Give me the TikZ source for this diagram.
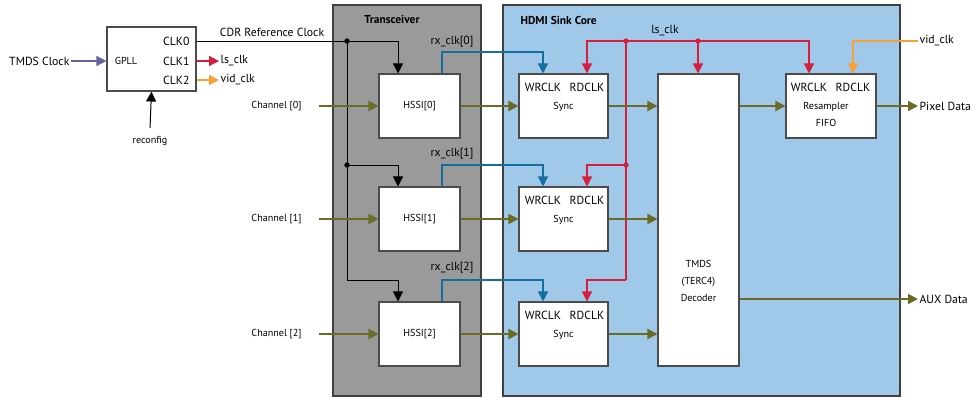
\documentclass[tikz,border=0pt]{standalone}
\usepackage{fontspec}
\setmainfont{PT Sans}
\usetikzlibrary{arrows.meta}
\definecolor{datolive}{RGB}{107,107,38}
\definecolor{rxblue}{RGB}{20,110,160}
\definecolor{lsred}{RGB}{215,30,60}
\definecolor{vidorange}{RGB}{250,160,50}
\definecolor{tmdspurple}{RGB}{100,100,160}
\definecolor{xcvrgray}{RGB}{154,154,154}
\definecolor{corblue}{RGB}{160,200,232}
\tikzset{
  box/.style={draw=black!70, fill=white, line width=0.8pt, inner sep=0pt, font=\fontsize{7.6}{8.6}\selectfont},
  lbl/.style={font=\fontsize{8.8}{10}\selectfont, inner sep=1pt},
  sm/.style={font=\fontsize{7.6}{8.6}\selectfont, inner sep=1pt},
  ttl/.style={font=\fontsize{8.6}{10}\selectfont\bfseries, inner sep=1pt},
  tip/.style={-{Triangle[length=7.5pt,width=7.5pt]}},
  dat/.style={tip, draw=datolive, line width=1.4pt},
  ck/.style={tip, draw=black, line width=0.75pt},
  rx/.style={tip, draw=rxblue, line width=1pt},
  ls/.style={tip, draw=lsred, line width=1pt},
  vid/.style={tip, draw=vidorange, line width=1pt},
}
\begin{document}
\begin{tikzpicture}[x=0.75pt,y=-0.75pt]
\useasboundingbox (0,0) rectangle (977,397);
\coordinate (k0) at (347,41);
\coordinate (k1) at (347,165);
\coordinate (k2) at (347,280);
\coordinate (cdr) at (398,41);
\coordinate (rx0) at (442,52);
\coordinate (rx1) at (442,165);
\coordinate (rx2) at (442,280);
\coordinate (ls0) at (626,41);
\coordinate (ls1) at (626,165);
\coordinate (ls2) at (626,280);
\coordinate (lst) at (698,41);

 \filldraw[fill=xcvrgray, draw=black!75, line width=0.8pt] (333,5) rectangle (481,396);
 \filldraw[fill=corblue, draw=black!75, line width=0.8pt] (503,5) rectangle (900,396);
 \node[ttl] (xcvr) at (392,20) {Transceiver};
 \node[ttl, anchor=west] (core) at (519,20) {HDMI Sink Core};

 \node[box, minimum width=66.75pt, minimum height=48pt] (gpll) at (151.5,59) {};
 \node[sm] (gplltxt) at (126,61) {GPLL};
 \node[lbl, anchor=east] (clk0) at (191,41) {CLK0};
 \node[lbl, anchor=east] (clk1) at (191,61) {CLK1};
 \node[lbl, anchor=east] (clk2) at (191,80) {CLK2};
 \node[lbl, anchor=east] (tmdsclk) at (71,61) {TMDS Clock};
 \node[lbl, anchor=west] (lsout) at (219,61) {ls\_clk};
 \node[lbl, anchor=west] (vidout) at (219,80) {vid\_clk};
 \node[sm] (reconf) at (150,141) {reconfig};
 \node[lbl] (cdrtxt) at (272,32) {CDR Reference Clock};

\foreach \i/\y in {0/106,1/219,2/334} {
 \node[box, minimum width=60.75pt, minimum height=48pt] (hssi\i) at (419.5,\y) {HSSI[\i]};
 \node[box, minimum width=66.75pt, minimum height=48pt] (sync\i) at (563.5,\y) {};
 \node[lbl] (wr\i) at (543,\y-19) {WRCLK};
 \node[lbl] (rd\i) at (587,\y-19) {RDCLK};
 \node[sm] (synctxt\i) at (563.5,\y+1) {Sync};
 \node[sm, anchor=east] (ch\i) at (303,\y) {Channel [\i]};
}
 \node[lbl, anchor=east] (rxtxt0) at (475,42) {rx\_clk[0]};
 \node[lbl, anchor=east] (rxtxt1) at (475,154) {rx\_clk[1]};
 \node[lbl, anchor=east] (rxtxt2) at (475,268) {rx\_clk[2]};

 \node[box, minimum width=60.75pt, minimum height=219pt] (tmds) at (698.5,220) {};
 \node[sm, align=center, font=\fontsize{7.6}{12.75}\selectfont] (tmdstxt) at (698.5,281) {TMDS\\(TERC4)\\Decoder};
 \node[box, minimum width=67.5pt, minimum height=48pt] (fifo) at (831,106) {};
 \node[lbl] (wrf) at (809,87) {WRCLK};
 \node[lbl] (rdf) at (853,87) {RDCLK};
 \node[sm, align=center, font=\fontsize{7.6}{12.75}\selectfont] (fifotxt) at (826,114.5) {Resampler\\FIFO};
 \node[lbl] (lstxt) at (665,31) {ls\_clk};
 \node[lbl, anchor=west] (vidin) at (918,41) {vid\_clk};
 \node[lbl, anchor=west] (pix) at (918,106) {Pixel Data};
 \node[lbl, anchor=west] (aux) at (918,299) {AUX Data};

 \draw[tip, draw=tmdspurple, line width=1pt] (tmdsclk.east) -- (gpll.west |- tmdsclk);
 \draw[ls] (gpll.east |- clk1) -- (lsout.west);
 \draw[vid] (gpll.east |- clk2) -- (vidout.west);
 \draw[ck] ([yshift=5pt]reconf.north) -- (gpll.south);

 \draw[ck] (gpll.east |- clk0) -- (cdr) -- (hssi0.north -| cdr);
 \draw[line width=0.75pt] (k0) -- (k2);
 \draw[ck] (k1) -| (hssi1.north -| cdr);
 \draw[ck] (k2) -| (hssi2.north -| cdr);
 \fill (k0) circle (2pt);
 \fill (k1) circle (2pt);

 \draw[line width=1pt, draw=lsred] (ls0) -- (ls2);
 \draw[ls] (ls0) -| (sync0.north -| rd0);
 \draw[ls] (ls1) -| (sync1.north -| rd1);
 \draw[ls] (ls2) -| (sync2.north -| rd2);
 \draw[ls] (ls0) -| (fifo.north -| wrf);
 \draw[ls] (lst) -- (tmds.north -| lst);
 \fill[lsred] (ls0) circle (2pt);
 \fill[lsred] (ls1) circle (2pt);
 \fill[lsred] (lst) circle (2pt);
 \draw[vid] (vidin.west) -| (fifo.north -| rdf);

\foreach \i in {0,1,2} {
 \draw[rx] (hssi\i.north -| rx\i) -- (rx\i) -| (sync\i.north -| wr\i);
 \draw[dat] ([xshift=12pt]ch\i.east) -- (hssi\i.west);
 \draw[dat] (hssi\i) -- (sync\i);
 \draw[dat] (sync\i) -- (tmds.west |- sync\i);
}
 \draw[dat] (tmds.east |- fifo) -- (fifo);
 \draw[dat] (fifo) -- (pix.west);
 \draw[dat] (tmds.east |- aux) -- (aux.west);

\end{tikzpicture}
\end{document}
